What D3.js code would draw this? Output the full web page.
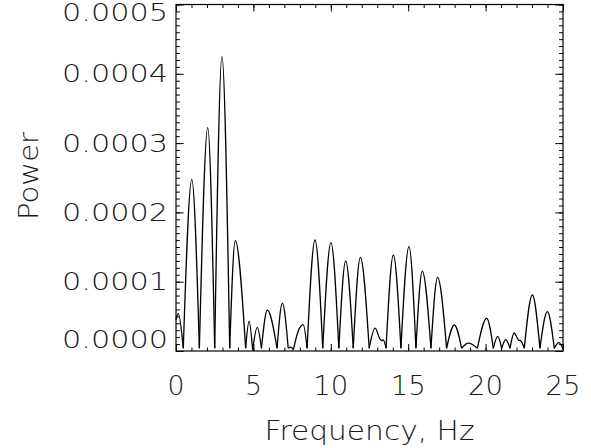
<!DOCTYPE html>
<html>
<head>
<meta charset="utf-8">
<script src="https://cdn.jsdelivr.net/npm/d3@7"></script>
<style>
  html, body { margin: 0; padding: 0; background: #fff; }
  svg { display: block; }
  text { font-family: "DejaVu Sans", sans-serif; font-weight: 200; fill: #1a1a1a; }
</style>
</head>
<body>
<svg id="chart"></svg>
<script>
// spectrum: extrema (and a few shoulder points) in order
const freq = [
  0.00, 0.15, 0.47, 1.02, 1.51, 2.05, 2.50, 2.97, 3.47, 3.83,
  4.50, 4.72, 4.95, 5.25, 5.52, 5.90, 6.53, 6.87, 7.25, 7.42,
  7.58, 7.90, 8.22, 8.47, 8.98, 9.48, 10.01, 10.52, 10.96, 11.45,
  11.91, 12.48, 12.86, 13.18, 13.29, 13.39, 13.57, 14.04, 14.53, 15.05,
  15.50, 15.91, 16.47, 16.90, 17.48, 17.98, 18.45, 18.89, 19.47, 20.07,
  20.50, 20.78, 21.04, 21.30, 21.58, 21.84, 22.12, 22.28, 22.50, 23.02,
  23.51, 23.99, 24.44, 24.74, 25.00
]
const power = [
  4.5e-5, 5.4e-5, 3.9e-6, 2.478e-4, 3.9e-6, 3.222e-4, 3.9e-6, 4.247e-4, 3.9e-6, 1.592e-4,
  3.9e-6, 4.3e-5, 1.5e-6, 3.4e-5, 3.9e-6, 5.9e-5, 3.9e-6, 6.9e-5, 3.9e-6, 5.5e-6,
  1.5e-6, 2.9e-5, 3.8e-5, 3.9e-6, 1.602e-4, 3.9e-6, 1.563e-4, 3.9e-6, 1.299e-4, 3.9e-6,
  1.352e-4, 3.9e-6, 3.3e-5, 1.7e-5, 1.45e-5, 1.6e-5, 3.9e-6, 1.385e-4, 3.9e-6, 1.505e-4,
  3.9e-6, 1.154e-4, 3.9e-6, 1.063e-4, 3.9e-6, 3.75e-5, 3.9e-6, 1.15e-5, 3.9e-6, 4.72e-5,
  3.9e-6, 2.1e-5, 3.9e-6, 1.65e-5, 3.9e-6, 2.6e-5, 1.6e-5, 1.45e-5, 3.9e-6, 8.08e-5,
  3.9e-6, 5.67e-5, 3.9e-6, 1.2e-5, 3.0e-6
]

const xTicks = [0, 5, 10, 15, 20, 25]
const xMinorTicks = d3.range(0, 26, 1)
const yTicks = [0, 0.0001, 0.0002, 0.0003, 0.0004, 0.0005]
const yMinorTicks = d3.range(0, 51).map(i => i * 0.00001)
const yTickLabels = ["0.0000", "0.0001", "0.0002", "0.0003", "0.0004", "0.0005"]
const xTickLabels = ["0", "5", "10", "15", "20", "25"]

const WIDTH = 591
const HEIGHT = 448
const plot = { left: 176, right: 563, top: 4.5, bottom: 351 }

const svg = d3.select("#chart")
  .attr("width", WIDTH)
  .attr("height", HEIGHT)

const x = d3.scaleLinear().domain([0, 25]).range([plot.left, plot.right])
const y = d3.scaleLinear().domain([0, 0.0005]).range([plot.bottom, plot.top])

// ticks point inward on all four sides, like IDL
function drawAxis(axisFn, scale, ticks, size, transform) {
  svg.append("g")
    .attr("transform", transform)
    .call(axisFn(scale).tickValues(ticks).tickSize(size).tickFormat(""))
    .call(g => g.select(".domain").remove())
    .call(g => g.selectAll("line").attr("stroke", "#000").attr("stroke-width", 1))
}

const xMajor = 7, xMinor = 3.5, yMajor = 7.7, yMinor = 3.9
drawAxis(d3.axisBottom, x, xMinorTicks, -xMinor, `translate(0,${plot.bottom})`)
drawAxis(d3.axisBottom, x, xTicks, -xMajor, `translate(0,${plot.bottom})`)
drawAxis(d3.axisTop, x, xMinorTicks, -xMinor, `translate(0,${plot.top})`)
drawAxis(d3.axisTop, x, xTicks, -xMajor, `translate(0,${plot.top})`)
drawAxis(d3.axisLeft, y, yMinorTicks, -yMinor, `translate(${plot.left},0)`)
drawAxis(d3.axisLeft, y, yTicks, -yMajor, `translate(${plot.left},0)`)
drawAxis(d3.axisRight, y, yMinorTicks, -yMinor, `translate(${plot.right},0)`)
drawAxis(d3.axisRight, y, yTicks, -yMajor, `translate(${plot.right},0)`)

svg.append("rect")
  .attr("x", plot.left)
  .attr("y", plot.top)
  .attr("width", plot.right - plot.left)
  .attr("height", plot.bottom - plot.top)
  .attr("fill", "none")
  .attr("stroke", "#000")
  .attr("stroke-width", 1.2)

// split the series at its local minima so each lobe gets sharp troughs
const points = freq.map((f, i) => [f, power[i]])
const lobes = []
let current = [points[0]]
for (let i = 1; i < points.length; i++) {
  current.push(points[i])
  const isMin = i < points.length - 1 && points[i][1] < points[i - 1][1] && points[i][1] < points[i + 1][1]
  if (isMin) {
    lobes.push(current)
    current = [points[i]]
  }
}
lobes.push(current)

const line = d3.line()
  .x(d => x(d[0]))
  .y(d => y(d[1]))
  .curve(d3.curveMonotoneX)

svg.append("g")
  .selectAll("path")
  .data(lobes)
  .enter().append("path")
  .attr("d", line)
  .attr("fill", "none")
  .attr("stroke", "#000")
  .attr("stroke-width", 1.3)
  .attr("stroke-linejoin", "round")

// tick labels; the end labels sit inside the frame like the original
svg.append("g")
  .selectAll("text")
  .data(yTicks)
  .enter().append("text")
  .attr("x", 168)
  .attr("y", d => Math.min(Math.max(y(d), 12.5), 339))
  .attr("dy", "0.36em")
  .attr("text-anchor", "end")
  .attr("font-size", 24)
  .attr("textLength", 106)
  .attr("lengthAdjust", "spacingAndGlyphs")
  .text((d, i) => yTickLabels[i])

svg.append("g")
  .selectAll("text")
  .data(xTicks)
  .enter().append("text")
  .attr("x", d => x(d))
  .attr("y", 395)
  .attr("text-anchor", "middle")
  .attr("font-size", 26)
  .attr("textLength", (d, i) => xTickLabels[i].length === 1 ? 17 : 35)
  .attr("lengthAdjust", "spacingAndGlyphs")
  .text((d, i) => xTickLabels[i])

svg.append("text")
  .attr("x", (plot.left + plot.right) / 2)
  .attr("y", 440)
  .attr("text-anchor", "middle")
  .attr("font-size", 27)
  .attr("textLength", 210)
  .attr("lengthAdjust", "spacingAndGlyphs")
  .text("Frequency, Hz")

svg.append("text")
  .attr("transform", `translate(38,176) rotate(-90)`)
  .attr("text-anchor", "middle")
  .attr("font-size", 27)
  .attr("textLength", 88)
  .attr("lengthAdjust", "spacingAndGlyphs")
  .text("Power")
</script>
</body>
</html>
